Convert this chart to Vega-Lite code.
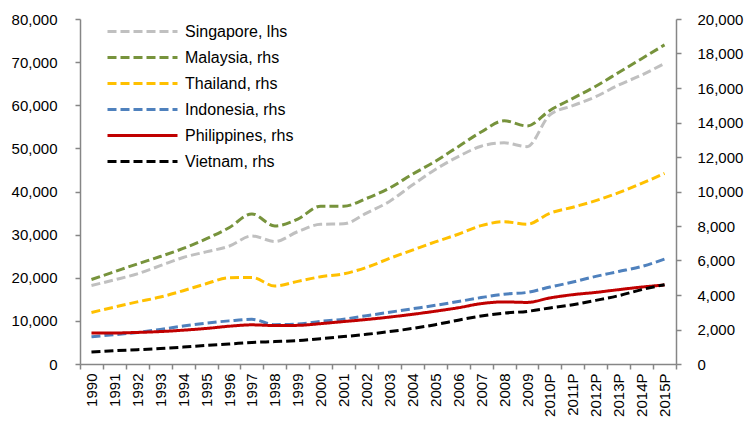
{
  "$schema": "https://vega.github.io/schema/vega-lite/v6.json",
  "width": 596,
  "height": 345,
  "autosize": {"type": "none"},
  "padding": {"left": 80, "top": 19, "right": 73, "bottom": 66},
  "background": "white",
  "config": {
    "view": {"stroke": null},
    "font": "Liberation Sans",
    "axis": {
      "grid": false,
      "domainColor": "#868686",
      "domainWidth": 1.5,
      "tickColor": "#868686",
      "tickWidth": 1.5,
      "tickSize": 5,
      "labelColor": "#000000",
      "labelFont": "Liberation Sans",
      "labelFontSize": 15,
      "title": null
    },
    "legend": {
      "title": null,
      "orient": "none",
      "legendX": 54,
      "legendY": 4,
      "padding": 0,
      "symbolType": "M-5,0H5",
      "symbolSize": 196,
      "symbolStrokeWidth": 3,
      "labelFontSize": 16,
      "labelFont": "Liberation Sans",
      "labelColor": "#000000",
      "labelOffset": 34,
      "rowPadding": 9
    }
  },
  "data": {
    "values": [
      {"year":"1990","series":"Singapore, lhs","value":18200},
      {"year":"1991","series":"Singapore, lhs","value":19500},
      {"year":"1992","series":"Singapore, lhs","value":20900},
      {"year":"1993","series":"Singapore, lhs","value":22800},
      {"year":"1994","series":"Singapore, lhs","value":24700},
      {"year":"1995","series":"Singapore, lhs","value":26000},
      {"year":"1996","series":"Singapore, lhs","value":27300},
      {"year":"1997","series":"Singapore, lhs","value":29700},
      {"year":"1998","series":"Singapore, lhs","value":28400},
      {"year":"1999","series":"Singapore, lhs","value":30700},
      {"year":"2000","series":"Singapore, lhs","value":32400},
      {"year":"2001","series":"Singapore, lhs","value":32500},
      {"year":"2002","series":"Singapore, lhs","value":35000},
      {"year":"2003","series":"Singapore, lhs","value":37700},
      {"year":"2004","series":"Singapore, lhs","value":41500},
      {"year":"2005","series":"Singapore, lhs","value":45100},
      {"year":"2006","series":"Singapore, lhs","value":48100},
      {"year":"2007","series":"Singapore, lhs","value":50500},
      {"year":"2008","series":"Singapore, lhs","value":51300},
      {"year":"2009","series":"Singapore, lhs","value":50400},
      {"year":"2010P","series":"Singapore, lhs","value":57800},
      {"year":"2011P","series":"Singapore, lhs","value":59900},
      {"year":"2012P","series":"Singapore, lhs","value":62000},
      {"year":"2013P","series":"Singapore, lhs","value":64700},
      {"year":"2014P","series":"Singapore, lhs","value":67000},
      {"year":"2015P","series":"Singapore, lhs","value":69700},

      {"year":"1990","series":"Malaysia, rhs","value":4900},
      {"year":"1991","series":"Malaysia, rhs","value":5350},
      {"year":"1992","series":"Malaysia, rhs","value":5800},
      {"year":"1993","series":"Malaysia, rhs","value":6230},
      {"year":"1994","series":"Malaysia, rhs","value":6700},
      {"year":"1995","series":"Malaysia, rhs","value":7250},
      {"year":"1996","series":"Malaysia, rhs","value":7900},
      {"year":"1997","series":"Malaysia, rhs","value":8700},
      {"year":"1998","series":"Malaysia, rhs","value":8000},
      {"year":"1999","series":"Malaysia, rhs","value":8400},
      {"year":"2000","series":"Malaysia, rhs","value":9150},
      {"year":"2001","series":"Malaysia, rhs","value":9150},
      {"year":"2002","series":"Malaysia, rhs","value":9600},
      {"year":"2003","series":"Malaysia, rhs","value":10200},
      {"year":"2004","series":"Malaysia, rhs","value":11000},
      {"year":"2005","series":"Malaysia, rhs","value":11750},
      {"year":"2006","series":"Malaysia, rhs","value":12600},
      {"year":"2007","series":"Malaysia, rhs","value":13450},
      {"year":"2008","series":"Malaysia, rhs","value":14100},
      {"year":"2009","series":"Malaysia, rhs","value":13800},
      {"year":"2010P","series":"Malaysia, rhs","value":14700},
      {"year":"2011P","series":"Malaysia, rhs","value":15400},
      {"year":"2012P","series":"Malaysia, rhs","value":16100},
      {"year":"2013P","series":"Malaysia, rhs","value":16900},
      {"year":"2014P","series":"Malaysia, rhs","value":17700},
      {"year":"2015P","series":"Malaysia, rhs","value":18500},

      {"year":"1990","series":"Thailand, rhs","value":2990},
      {"year":"1991","series":"Thailand, rhs","value":3300},
      {"year":"1992","series":"Thailand, rhs","value":3600},
      {"year":"1993","series":"Thailand, rhs","value":3880},
      {"year":"1994","series":"Thailand, rhs","value":4250},
      {"year":"1995","series":"Thailand, rhs","value":4650},
      {"year":"1996","series":"Thailand, rhs","value":5000},
      {"year":"1997","series":"Thailand, rhs","value":5020},
      {"year":"1998","series":"Thailand, rhs","value":4520},
      {"year":"1999","series":"Thailand, rhs","value":4790},
      {"year":"2000","series":"Thailand, rhs","value":5060},
      {"year":"2001","series":"Thailand, rhs","value":5230},
      {"year":"2002","series":"Thailand, rhs","value":5600},
      {"year":"2003","series":"Thailand, rhs","value":6120},
      {"year":"2004","series":"Thailand, rhs","value":6600},
      {"year":"2005","series":"Thailand, rhs","value":7080},
      {"year":"2006","series":"Thailand, rhs","value":7520},
      {"year":"2007","series":"Thailand, rhs","value":8020},
      {"year":"2008","series":"Thailand, rhs","value":8250},
      {"year":"2009","series":"Thailand, rhs","value":8100},
      {"year":"2010P","series":"Thailand, rhs","value":8740},
      {"year":"2011P","series":"Thailand, rhs","value":9090},
      {"year":"2012P","series":"Thailand, rhs","value":9470},
      {"year":"2013P","series":"Thailand, rhs","value":9930},
      {"year":"2014P","series":"Thailand, rhs","value":10470},
      {"year":"2015P","series":"Thailand, rhs","value":11050},

      {"year":"1990","series":"Indonesia, rhs","value":1580},
      {"year":"1991","series":"Indonesia, rhs","value":1700},
      {"year":"1992","series":"Indonesia, rhs","value":1830},
      {"year":"1993","series":"Indonesia, rhs","value":2000},
      {"year":"1994","series":"Indonesia, rhs","value":2200},
      {"year":"1995","series":"Indonesia, rhs","value":2370},
      {"year":"1996","series":"Indonesia, rhs","value":2500},
      {"year":"1997","series":"Indonesia, rhs","value":2590},
      {"year":"1998","series":"Indonesia, rhs","value":2280},
      {"year":"1999","series":"Indonesia, rhs","value":2320},
      {"year":"2000","series":"Indonesia, rhs","value":2470},
      {"year":"2001","series":"Indonesia, rhs","value":2600},
      {"year":"2002","series":"Indonesia, rhs","value":2800},
      {"year":"2003","series":"Indonesia, rhs","value":3000},
      {"year":"2004","series":"Indonesia, rhs","value":3200},
      {"year":"2005","series":"Indonesia, rhs","value":3400},
      {"year":"2006","series":"Indonesia, rhs","value":3620},
      {"year":"2007","series":"Indonesia, rhs","value":3850},
      {"year":"2008","series":"Indonesia, rhs","value":4050},
      {"year":"2009","series":"Indonesia, rhs","value":4150},
      {"year":"2010P","series":"Indonesia, rhs","value":4460},
      {"year":"2011P","series":"Indonesia, rhs","value":4750},
      {"year":"2012P","series":"Indonesia, rhs","value":5080},
      {"year":"2013P","series":"Indonesia, rhs","value":5360},
      {"year":"2014P","series":"Indonesia, rhs","value":5650},
      {"year":"2015P","series":"Indonesia, rhs","value":6080},

      {"year":"1990","series":"Philippines, rhs","value":1800},
      {"year":"1991","series":"Philippines, rhs","value":1800},
      {"year":"1992","series":"Philippines, rhs","value":1830},
      {"year":"1993","series":"Philippines, rhs","value":1880},
      {"year":"1994","series":"Philippines, rhs","value":1960},
      {"year":"1995","series":"Philippines, rhs","value":2060},
      {"year":"1996","series":"Philippines, rhs","value":2190},
      {"year":"1997","series":"Philippines, rhs","value":2270},
      {"year":"1998","series":"Philippines, rhs","value":2230},
      {"year":"1999","series":"Philippines, rhs","value":2240},
      {"year":"2000","series":"Philippines, rhs","value":2340},
      {"year":"2001","series":"Philippines, rhs","value":2460},
      {"year":"2002","series":"Philippines, rhs","value":2580},
      {"year":"2003","series":"Philippines, rhs","value":2720},
      {"year":"2004","series":"Philippines, rhs","value":2880},
      {"year":"2005","series":"Philippines, rhs","value":3060},
      {"year":"2006","series":"Philippines, rhs","value":3260},
      {"year":"2007","series":"Philippines, rhs","value":3500},
      {"year":"2008","series":"Philippines, rhs","value":3600},
      {"year":"2009","series":"Philippines, rhs","value":3570},
      {"year":"2010P","series":"Philippines, rhs","value":3830},
      {"year":"2011P","series":"Philippines, rhs","value":4020},
      {"year":"2012P","series":"Philippines, rhs","value":4150},
      {"year":"2013P","series":"Philippines, rhs","value":4310},
      {"year":"2014P","series":"Philippines, rhs","value":4460},
      {"year":"2015P","series":"Philippines, rhs","value":4580},

      {"year":"1990","series":"Vietnam, rhs","value":690},
      {"year":"1991","series":"Vietnam, rhs","value":770},
      {"year":"1992","series":"Vietnam, rhs","value":830},
      {"year":"1993","series":"Vietnam, rhs","value":900},
      {"year":"1994","series":"Vietnam, rhs","value":980},
      {"year":"1995","series":"Vietnam, rhs","value":1080},
      {"year":"1996","series":"Vietnam, rhs","value":1160},
      {"year":"1997","series":"Vietnam, rhs","value":1250},
      {"year":"1998","series":"Vietnam, rhs","value":1300},
      {"year":"1999","series":"Vietnam, rhs","value":1360},
      {"year":"2000","series":"Vietnam, rhs","value":1470},
      {"year":"2001","series":"Vietnam, rhs","value":1590},
      {"year":"2002","series":"Vietnam, rhs","value":1720},
      {"year":"2003","series":"Vietnam, rhs","value":1880},
      {"year":"2004","series":"Vietnam, rhs","value":2060},
      {"year":"2005","series":"Vietnam, rhs","value":2280},
      {"year":"2006","series":"Vietnam, rhs","value":2540},
      {"year":"2007","series":"Vietnam, rhs","value":2780},
      {"year":"2008","series":"Vietnam, rhs","value":2950},
      {"year":"2009","series":"Vietnam, rhs","value":3050},
      {"year":"2010P","series":"Vietnam, rhs","value":3250},
      {"year":"2011P","series":"Vietnam, rhs","value":3440},
      {"year":"2012P","series":"Vietnam, rhs","value":3690},
      {"year":"2013P","series":"Vietnam, rhs","value":3960},
      {"year":"2014P","series":"Vietnam, rhs","value":4310},
      {"year":"2015P","series":"Vietnam, rhs","value":4600}
    ]
  },
  "encoding": {
    "x": {
      "field": "year",
      "type": "nominal",
      "bandPosition": 0.5,
      "scale": {
        "type": "band",
        "paddingInner": 0,
        "paddingOuter": 0,
        "domain": ["1990","1991","1992","1993","1994","1995","1996","1997","1998","1999","2000","2001","2002","2003","2004","2005","2006","2007","2008","2009","2010P","2011P","2012P","2013P","2014P","2015P"]
      },
      "axis": {"labelAngle": -90, "tickBand": "extent", "labelPadding": 4, "title": null}
    },
    "color": {
      "field": "series",
      "type": "nominal",
      "scale": {
        "domain": ["Singapore, lhs","Malaysia, rhs","Thailand, rhs","Indonesia, rhs","Philippines, rhs","Vietnam, rhs"],
        "range": ["#C0C0C0","#77933C","#FFC000","#4F81BD","#C00000","#000000"]
      },
      "legend": {"title": null}
    },
    "strokeDash": {
      "field": "series",
      "type": "nominal",
      "scale": {
        "domain": ["Singapore, lhs","Malaysia, rhs","Thailand, rhs","Indonesia, rhs","Philippines, rhs","Vietnam, rhs"],
        "range": [[9,4],[9,4],[9,4],[9,4],[1,0],[9,4]]
      },
      "legend": {"title": null}
    }
  },
  "layer": [
    {
      "transform": [{"filter": "datum.series === 'Singapore, lhs'"}],
      "mark": {"type": "line", "strokeWidth": 3, "interpolate": "monotone"},
      "encoding": {
        "y": {
          "field": "value",
          "type": "quantitative",
          "scale": {"domain": [0, 80000], "nice": false},
          "axis": {"orient": "left", "values": [0,10000,20000,30000,40000,50000,60000,70000,80000], "format": ",d", "labelPadding": 18, "title": null}
        }
      }
    },
    {
      "transform": [{"filter": "datum.series !== 'Singapore, lhs'"}],
      "mark": {"type": "line", "strokeWidth": 3, "interpolate": "monotone"},
      "encoding": {
        "y": {
          "field": "value",
          "type": "quantitative",
          "scale": {"domain": [0, 20000], "nice": false},
          "axis": {"orient": "right", "values": [0,2000,4000,6000,8000,10000,12000,14000,16000,18000,20000], "format": ",d", "labelPadding": 16, "title": null}
        }
      }
    }
  ],
  "resolve": {"scale": {"y": "independent"}}
}
